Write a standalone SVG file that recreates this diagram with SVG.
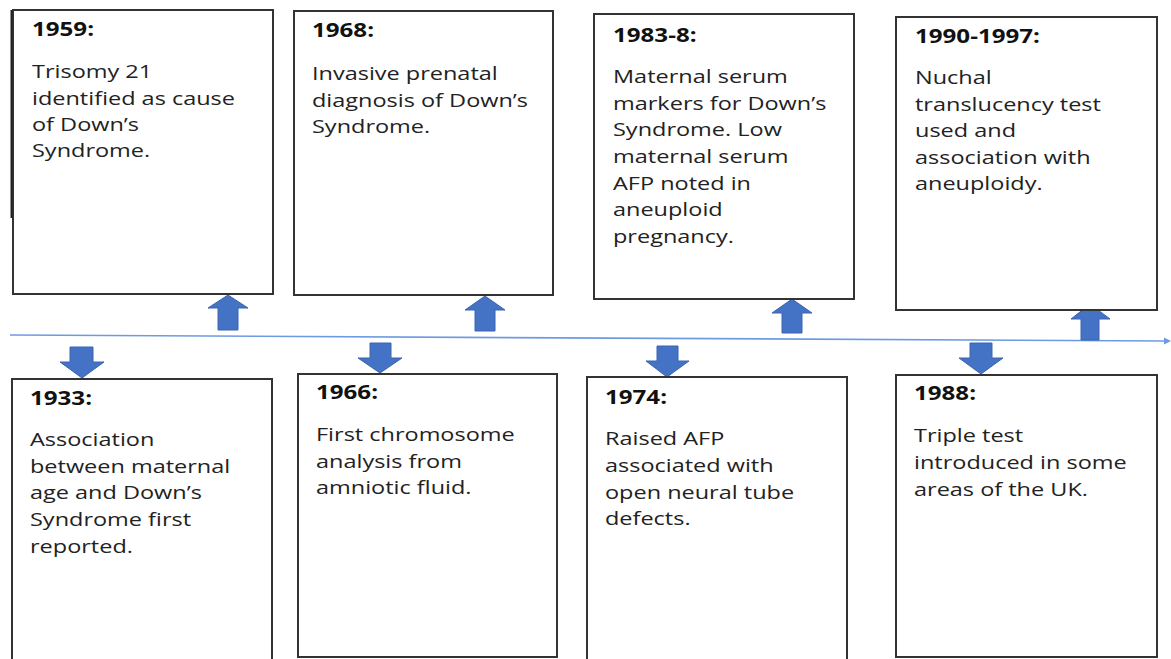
<svg xmlns="http://www.w3.org/2000/svg" width="1171" height="659" viewBox="0 0 1171 659">
<style>
.box{fill:#fff;stroke:#333;stroke-width:2}
.h{font-family:"Open Sans","Liberation Sans",sans-serif;font-weight:bold;font-size:19px;fill:#111}
.t{font-family:"Open Sans","Liberation Sans",sans-serif;font-size:18.5px;fill:#222}
.arr{fill:#4472c4;stroke:#3a64b0;stroke-width:1}
.tl{stroke:#6d9be3;stroke-width:1.6;fill:none}
</style>
<rect width="1171" height="659" fill="#fff"/>
<g id="connectors">
<line class="tl" x1="10" y1="335" x2="1164" y2="341"/>
<polygon points="1171,341 1164,337.5 1164,344.5" fill="#6d9be3"/>
<polygon class="arr" points="228,295 248,308 238,308 238,330 218,330 218,308 208,308"/>
<polygon class="arr" points="485,296 505,310 495,310 495,331 475,331 475,310 465,310"/>
<polygon class="arr" points="792,299 812,313 802,313 802,333 782,333 782,313 772,313"/>
<polygon class="arr" points="1090,304 1110,319 1099,319 1099,340 1081,340 1081,319 1071,319"/>
<polygon class="arr" points="82,378 104,362 93,362 93,347 70,347 70,362 60,362"/>
<polygon class="arr" points="380,373 402,358 391,358 391,343 370,343 370,358 358,358"/>
<polygon class="arr" points="667,377 689,361 678,361 678,346 657,346 657,361 646,361"/>
<polygon class="arr" points="981,374 1003,358 992,358 992,343 970,343 970,358 959,358"/>
</g>
<g id="n1959">
<rect class="box" x="13" y="10" width="260" height="284"/>
<line x1="11.5" y1="10" x2="11.5" y2="218" stroke="#222" stroke-width="2"/>
<g transform="translate(32,0) scale(1.27,1)">
<text class="h" x="0" y="36">1959:</text>
<text class="t" x="0" y="78">Trisomy 21</text>
<text class="t" x="0" y="105">identified as cause</text>
<text class="t" x="0" y="131">of Down’s</text>
<text class="t" x="0" y="157">Syndrome.</text>
</g>
</g>
<g id="n1968">
<rect class="box" x="294" y="11" width="259" height="284"/>
<g transform="translate(312,0) scale(1.27,1)">
<text class="h" x="0" y="37">1968:</text>
<text class="t" x="0" y="80">Invasive prenatal</text>
<text class="t" x="0" y="107">diagnosis of Down’s</text>
<text class="t" x="0" y="133">Syndrome.</text>
</g>
</g>
<g id="n1983">
<rect class="box" x="594" y="14" width="260" height="285"/>
<g transform="translate(613,0) scale(1.27,1)">
<text class="h" x="0" y="42">1983-8:</text>
<text class="t" x="0" y="83">Maternal serum</text>
<text class="t" x="0" y="110">markers for Down’s</text>
<text class="t" x="0" y="136">Syndrome. Low</text>
<text class="t" x="0" y="163">maternal serum</text>
<text class="t" x="0" y="190">AFP noted in</text>
<text class="t" x="0" y="216">aneuploid</text>
<text class="t" x="0" y="243">pregnancy.</text>
</g>
</g>
<g id="n1990">
<rect class="box" x="896" y="17" width="261" height="293"/>
<g transform="translate(915,0) scale(1.27,1)">
<text class="h" x="0" y="43">1990-1997:</text>
<text class="t" x="0" y="84">Nuchal</text>
<text class="t" x="0" y="111">translucency test</text>
<text class="t" x="0" y="137">used and</text>
<text class="t" x="0" y="164">association with</text>
<text class="t" x="0" y="190">aneuploidy.</text>
</g>
</g>
<g id="n1933">
<rect class="box" x="12" y="379" width="260" height="300"/>
<g transform="translate(30,0) scale(1.27,1)">
<text class="h" x="0" y="405">1933:</text>
<text class="t" x="0" y="446">Association</text>
<text class="t" x="0" y="473">between maternal</text>
<text class="t" x="0" y="499">age and Down’s</text>
<text class="t" x="0" y="526">Syndrome first</text>
<text class="t" x="0" y="553">reported.</text>
</g>
</g>
<g id="n1966">
<rect class="box" x="298" y="374" width="259" height="283"/>
<g transform="translate(316,0) scale(1.27,1)">
<text class="h" x="0" y="399">1966:</text>
<text class="t" x="0" y="441">First chromosome</text>
<text class="t" x="0" y="468">analysis from</text>
<text class="t" x="0" y="494">amniotic fluid.</text>
</g>
</g>
<g id="n1974">
<rect class="box" x="587" y="377" width="260" height="300"/>
<g transform="translate(605,0) scale(1.27,1)">
<text class="h" x="0" y="404">1974:</text>
<text class="t" x="0" y="445">Raised AFP</text>
<text class="t" x="0" y="472">associated with</text>
<text class="t" x="0" y="499">open neural tube</text>
<text class="t" x="0" y="525">defects.</text>
</g>
</g>
<g id="n1988">
<rect class="box" x="896" y="375" width="261" height="282"/>
<g transform="translate(914,0) scale(1.27,1)">
<text class="h" x="0" y="400">1988:</text>
<text class="t" x="0" y="442">Triple test</text>
<text class="t" x="0" y="469">introduced in some</text>
<text class="t" x="0" y="496">areas of the UK.</text>
</g>
</g>
</svg>
